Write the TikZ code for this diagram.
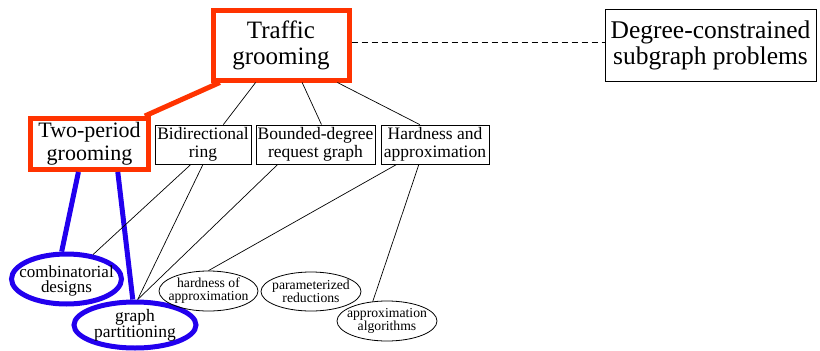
\documentclass[tikz,border=0pt]{standalone}
\usepackage{fontspec}
\setmainfont{Liberation Serif}
\usetikzlibrary{shapes.geometric,calc}
\definecolor{hlred}{RGB}{255,51,0}
\definecolor{hlblue}{RGB}{34,0,238}
\begin{document}
\begin{tikzpicture}[x=1pt,y=-1pt,
  topic/.style={rectangle, draw=black, line width=0.8pt, inner sep=0pt, align=center},
  redbox/.style={draw=hlred, line width=5pt},
  subtopic/.style={ellipse, draw=black, line width=0.8pt, inner sep=0pt},
  bluering/.style={draw=hlblue, line width=5pt},
  inside/.style={font=#1, align=center, inner sep=0pt},
  link/.style={line width=0.7pt},
  redlink/.style={draw=hlred, line width=5pt},
  bluelink/.style={draw=hlblue, line width=5pt},
]
\useasboundingbox (0,0) rectangle (820,351);

% top-level topics
\node[topic, redbox, minimum width=136, minimum height=70,
      font=\fontsize{25}{26}\selectfont] (tg) at (281,45) {Traffic\\grooming};
\node[topic, minimum width=211, minimum height=72,
      font=\fontsize{25.5}{26}\selectfont] (dcs) at (710.5,45) {Degree-constrained\\subgraph problems};

% second-level topics
\node[topic, redbox, minimum width=118, minimum height=51,
      font=\fontsize{22}{23}\selectfont] (tp) at (89.5,144) {Two-period\\grooming};
\node[topic, minimum width=96, minimum height=39,
      font=\fontsize{17.5}{18}\selectfont] (bd) at (203,144.5) {Bidirectional\\ring};
\node[topic, minimum width=119, minimum height=39,
      font=\fontsize{17.5}{18}\selectfont] (bg) at (315.5,144.5) {Bounded-degree\\request graph};
\node[topic, minimum width=108, minimum height=39,
      font=\fontsize{17.5}{18}\selectfont] (ha) at (435,144.5) {Hardness and\\approximation};

% related fields
\node[subtopic, bluering, minimum width=110, minimum height=50,
      label={[inside=\fontsize{17}{15}\selectfont, yshift=-1.5pt]center:{combinatorial\\designs}}] (cd) at (66.5,279) {};
\node[subtopic, bluering, minimum width=122, minimum height=46,
      label={[inside=\fontsize{17.5}{16}\selectfont]center:{graph\\partitioning}}] (gp) at (135,325) {};
\node[subtopic, minimum width=99, minimum height=40,
      label={[inside=\fontsize{13.7}{13}\selectfont]center:{hardness of\\approximation}}] (hoa) at (208.5,291) {};
\node[subtopic, minimum width=100, minimum height=39,
      label={[inside=\fontsize{13.7}{13}\selectfont]center:{parameterized\\reductions}}] (pr) at (311,291.5) {};
\node[subtopic, minimum width=100, minimum height=40,
      label={[inside=\fontsize{13.7}{13}\selectfont]center:{approximation\\algorithms}}] (aa) at (387,321) {};

% connectors
\draw[link, dash pattern=on 6pt off 4pt] ([yshift=2.5pt]tg.east) -- ([yshift=2.5pt]dcs.west);

\draw[redlink] ($(tg.south west)!0.066!(tg.south east)$) -- ($(tp.north west)!0.95!(tp.north east)$);
\draw[link] ($(tg.south west)!0.32!(tg.south east)$) -- ($(bd.north west)!0.71!(bd.north east)$);
\draw[link] ($(tg.south west)!0.65!(tg.south east)$) -- ($(bg.north west)!0.55!(bg.north east)$);
\draw[link] ($(tg.south west)!0.90!(tg.south east)$) -- ($(ha.north west)!0.36!(ha.north east)$);

\draw[bluelink] ($(tp.south west)!0.41!(tp.south east)$) -- (cd.100);
\draw[bluelink] ($(tp.south west)!0.73!(tp.south east)$) -- (gp.95);

\draw[link] ($(bd.south west)!0.375!(bd.south east)$) -- (cd);
\draw[link] (bd.south) -- (gp.84);
\draw[link] ($(bg.south west)!0.185!(bg.south east)$) -- (gp.84);
\draw[link] ($(ha.south west)!0.148!(ha.south east)$) -- (hoa.north);
\draw[link] ($(ha.south west)!0.352!(ha.south east)$) -- (aa.126);
\end{tikzpicture}
\end{document}
